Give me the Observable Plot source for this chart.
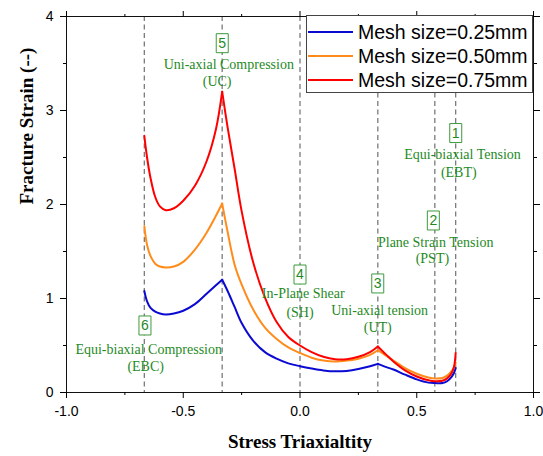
<!DOCTYPE html>
<html><head><meta charset="utf-8">
<script src="https://cdn.jsdelivr.net/npm/d3@7"></script>
<script src="https://cdn.jsdelivr.net/npm/@observablehq/plot@0.6"></script>
<style>
body{margin:0;background:#fff;}
#wrap{position:relative;width:543px;height:456px;}
#legend{position:absolute;left:306px;top:15px;width:227px;height:78px;border:1px solid #444;background:#fff;box-sizing:border-box;font-family:"Liberation Sans",Arial,sans-serif;font-size:19.5px;color:#000;}
.row{position:absolute;left:0;height:24px;display:flex;align-items:center;white-space:nowrap;}
.sw{width:45px;height:2px;margin-left:1px;margin-right:5px;}
</style></head><body><div id="wrap"><div id="legend"></div></div>
<script>
// ---- data ----
const meshSizes = ["Mesh size=0.25mm", "Mesh size=0.50mm", "Mesh size=0.75mm"];
const meshColors = ["#0a0ad2", "#ff8c1a", "#ff0000"];

const triaxEBCtoUC = [-0.6667,-0.655,-0.64,-0.62,-0.60,-0.575,-0.54,-0.50,-0.45,-0.40,-0.36,-0.3333];
const mesh025EBCtoUC = [1.08,0.97,0.90,0.86,0.84,0.83,0.84,0.87,0.94,1.05,1.14,1.20];
const mesh050EBCtoUC = [1.77,1.57,1.45,1.37,1.34,1.33,1.34,1.39,1.52,1.70,1.88,2.01];
const mesh075EBCtoUC = [2.73,2.50,2.28,2.08,1.98,1.94,1.96,2.04,2.20,2.46,2.80,3.20];

const triaxUCtoUT = [-0.3333,-0.31,-0.28,-0.25,-0.20,-0.15,-0.10,-0.05,0,0.05,0.10,0.15,0.20,0.25,0.30,0.3333];
const mesh025UCtoUT = [1.20,1.08,0.91,0.74,0.55,0.43,0.36,0.31,0.28,0.255,0.235,0.225,0.23,0.25,0.28,0.305];
const mesh050UCtoUT = [2.01,1.71,1.36,1.15,0.88,0.69,0.57,0.48,0.42,0.37,0.34,0.33,0.34,0.36,0.40,0.45];
const mesh075UCtoUT = [3.20,2.82,2.38,1.93,1.38,1.01,0.75,0.59,0.50,0.43,0.38,0.355,0.355,0.38,0.43,0.49];

const triaxUTtoEBT = [0.3333,0.37,0.40,0.45,0.50,0.55,0.58,0.61,0.63,0.65,0.66,0.6667];
const mesh025UTtoEBT = [0.305,0.27,0.245,0.19,0.14,0.105,0.10,0.10,0.12,0.17,0.21,0.26];
const mesh050UTtoEBT = [0.45,0.39,0.34,0.26,0.20,0.16,0.15,0.155,0.18,0.23,0.27,0.32];
const mesh075UTtoEBT = [0.49,0.40,0.33,0.235,0.17,0.13,0.12,0.125,0.15,0.21,0.28,0.42];

const modeTriax = [-0.6667,-0.3333,0,0.3333,0.5774,0.6667];
const modeNumbers = ["6","5","4","3","2","1"];
const modeNames = ["Equi-biaxial Compression","Uni-axial Compression","In-Plane Shear","Uni-axial tension","Plane Strain Tension","Equi-biaxial Tension"];
const modeAbbr = ["(EBC)","(UC)","(SH)","(UT)","(PST)","(EBT)"];
const numberX = [-0.664,-0.333,0,0.333,0.571,0.667];
const numberY = [0.713,3.716,1.255,1.16,1.83,2.76];
const nameX = [-0.648,-0.305,0.014,0.341,0.581,0.696];
const nameY = [0.457,3.49,1.053,0.872,1.60,2.53];
const abbrX = [-0.661,-0.355,0,0.333,0.567,0.680];
const abbrY = [0.28,3.31,0.854,0.69,1.43,2.34];

const xMajor = [-1,-0.5,0,0.5,1];
const xMinor = [-0.75,-0.25,0.25,0.75];
const yMajor = [0,1,2,3,4];
const yMinor = [0.5,1.5,2.5,3.5];

// ---- build table ----
const segments = [
  [triaxEBCtoUC, [mesh025EBCtoUC, mesh050EBCtoUC, mesh075EBCtoUC]],
  [triaxUCtoUT, [mesh025UCtoUT, mesh050UCtoUT, mesh075UCtoUT]],
  [triaxUTtoEBT, [mesh025UTtoEBT, mesh050UTtoEBT, mesh075UTtoEBT]]
];
const rows = [];
segments.forEach(([xs, series], si) => {
  series.forEach((ys, mi) => {
    xs.forEach((x, i) => rows.push({x, y: ys[i], mesh: meshSizes[mi], key: mi + "-" + si}));
  });
});
const modes = modeTriax.map((t, i) => ({t, num: modeNumbers[i], name: modeNames[i], abbr: modeAbbr[i],
  nx: numberX[i], ny: numberY[i], tx: nameX[i], ty: nameY[i], ax: abbrX[i], ay: abbrY[i]}));

const green = "#1f8a1f";
const boxSymbol = {draw(ctx) { ctx.rect(-6, -9.5, 12, 19); }};
const blank = () => "";

const chart = Plot.plot({
  width: 543, height: 456,
  marginLeft: 66, marginRight: 10, marginTop: 16, marginBottom: 64,
  style: {fontFamily: "'Liberation Sans', Arial, sans-serif", fontSize: "14px", background: "#fff", color: "#000"},
  x: {domain: [-1, 1], label: null},
  y: {domain: [0, 4], label: null},
  color: {domain: meshSizes, range: meshColors},
  marks: [
    Plot.ruleX(modeTriax, {stroke: "#7a7a7a", strokeWidth: 1.3, strokeDasharray: "5,3.5"}),
    Plot.line(rows, {x: "x", y: "y", z: "key", stroke: "mesh", strokeWidth: 2, curve: "catmull-rom"}),
    Plot.text(modes, {x: "tx", y: "ty", text: "name", fill: green, fontFamily: "'Liberation Serif', 'Times New Roman', serif", fontSize: 14, lineAnchor: "middle"}),
    Plot.text(modes, {x: "ax", y: "ay", text: "abbr", fill: green, fontFamily: "'Liberation Serif', 'Times New Roman', serif", fontSize: 14, lineAnchor: "middle"}),
    Plot.dot(modes, {x: "nx", y: "ny", symbol: boxSymbol, fill: "#fff", stroke: "#3c9a3c", strokeWidth: 1}),
    Plot.text(modes, {x: "nx", y: "ny", text: "num", fill: green, fontSize: 14, lineAnchor: "middle"}),
    Plot.frame({stroke: "#111", strokeWidth: 1}),
    Plot.axisX({ticks: xMajor, tickSize: 6, tickPadding: 8, tickFormat: d => d.toFixed(1), label: null}),
    Plot.axisX({ticks: xMinor, tickSize: 3, tickFormat: blank, label: null}),
    Plot.axisX({anchor: "top", ticks: xMajor, tickSize: 6, tickFormat: blank, label: null}),
    Plot.axisX({anchor: "top", ticks: xMinor, tickSize: 3, tickFormat: blank, label: null}),
    Plot.axisY({ticks: yMajor, tickSize: 6, tickPadding: 7, tickFormat: d => String(d), label: null}),
    Plot.axisY({ticks: yMinor, tickSize: 3, tickFormat: blank, label: null}),
    Plot.axisY({anchor: "right", ticks: yMajor, tickSize: 6, tickFormat: blank, label: null}),
    Plot.axisY({anchor: "right", ticks: yMinor, tickSize: 3, tickFormat: blank, label: null}),
    Plot.text(["Stress Triaxialtity"], {frameAnchor: "bottom", dy: 49, fontFamily: "'Liberation Serif', 'Times New Roman', serif", fontWeight: "bold", fontSize: 19, lineAnchor: "middle", fill: "#000"}),
    Plot.text(["Fracture Strain (--)"], {frameAnchor: "left", dx: -40, rotate: -90, fontFamily: "'Liberation Serif', 'Times New Roman', serif", fontWeight: "bold", fontSize: 19, lineAnchor: "middle", fill: "#000"})
  ]
});
const wrap = document.getElementById("wrap");
wrap.insertBefore(chart, wrap.firstChild);

const legend = document.getElementById("legend");
meshSizes.forEach((name, i) => {
  const row = document.createElement("div");
  row.className = "row";
  row.style.top = (4 + i * 24) + "px";
  const sw = document.createElement("span");
  sw.className = "sw";
  sw.style.background = meshColors[i];
  const label = document.createElement("span");
  label.textContent = name;
  row.appendChild(sw); row.appendChild(label);
  legend.appendChild(row);
});
</script></body></html>
